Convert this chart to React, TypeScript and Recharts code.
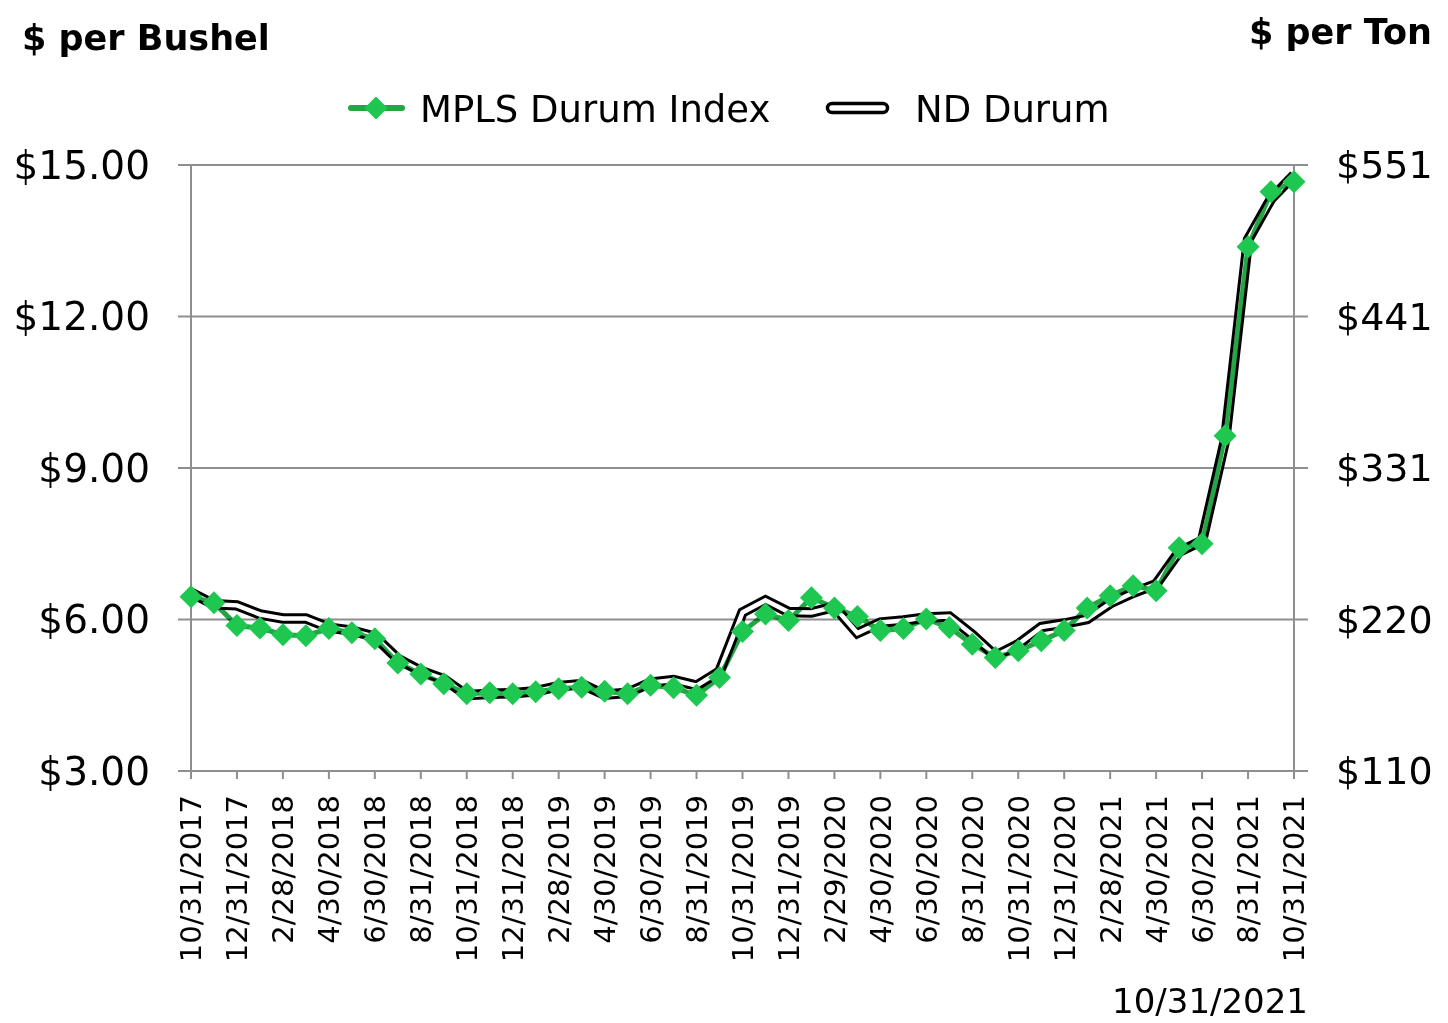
import React from 'react';
import { LineChart, Line, XAxis, YAxis, CartesianGrid } from 'recharts';

const dates = [
  '10/31/2017', '11/30/2017', '12/31/2017',
  '1/31/2018', '2/28/2018', '3/31/2018', '4/30/2018', '5/31/2018', '6/30/2018',
  '7/31/2018', '8/31/2018', '9/30/2018', '10/31/2018', '11/30/2018', '12/31/2018',
  '1/31/2019', '2/28/2019', '3/31/2019', '4/30/2019', '5/31/2019', '6/30/2019',
  '7/31/2019', '8/31/2019', '9/30/2019', '10/31/2019', '11/30/2019', '12/31/2019',
  '1/31/2020', '2/29/2020', '3/31/2020', '4/30/2020', '5/31/2020', '6/30/2020',
  '7/31/2020', '8/31/2020', '9/30/2020', '10/31/2020', '11/30/2020', '12/31/2020',
  '1/31/2021', '2/28/2021', '3/31/2021', '4/30/2021', '5/31/2021', '6/30/2021',
  '7/31/2021', '8/31/2021', '9/30/2021', '10/31/2021',
];

const mplsDurumIndex = [
  6.45, 6.33, 5.88, 5.83, 5.70, 5.68, 5.82, 5.74, 5.62, 5.14, 4.92, 4.73,
  4.53, 4.55, 4.53, 4.57, 4.63, 4.66, 4.58, 4.53, 4.70, 4.65, 4.50, 4.85,
  5.76, 6.11, 5.98, 6.43, 6.23, 6.06, 5.78, 5.82, 6.01, 5.84, 5.51, 5.25,
  5.38, 5.58, 5.78, 6.23, 6.47, 6.67, 6.57, 7.42, 7.50, 9.64, 13.38, 14.47, 14.67,
];

const ndDurum = [
  6.53, 6.30, 6.28, 6.10, 6.02, 6.02, 5.84, 5.78, 5.66, 5.22, 4.98, 4.82,
  4.50, 4.53, 4.54, 4.58, 4.68, 4.72, 4.51, 4.55, 4.75, 4.80, 4.69, 4.97,
  6.14, 6.38, 6.15, 6.14, 6.25, 5.73, 5.94, 5.98, 6.04, 6.06, 5.70, 5.28,
  5.51, 5.85, 5.92, 6.01, 6.32, 6.53, 6.70, 7.34, 7.56, 9.55, 13.52, 14.33, 14.80,
];

const yTicks = [3, 6, 9, 12, 15];
const leftTickLabels = ['$3.00', '$6.00', '$9.00', '$12.00', '$15.00'];
const rightTickLabels = ['$110', '$220', '$331', '$441', '$551'];

const seriesNames = ['MPLS Durum Index', 'ND Durum'];
const titleLeft = '$ per Bushel';
const titleRight = '$ per Ton';
const asOfDate = '10/31/2021';

const data = dates.map((d, i) => ({ date: d, mpls: mplsDurumIndex[i], nd: ndDurum[i] }));

const FONT = '"DejaVu Sans", sans-serif';
const GREEN_LINE = '#22a744';
const GREEN_MARK = '#1ec850';
const GRID = '#8e8e8e';

const Diamond = (props: any) => {
  const { cx, cy, index } = props;
  if (cx == null || cy == null) return null;
  const r = 11.5;
  return (
    <polygon
      key={`dia-${index}`}
      points={`${cx},${cy - r} ${cx + r},${cy} ${cx},${cy + r} ${cx - r},${cy}`}
      fill={GREEN_MARK}
      style={{ mixBlendMode: 'multiply' }}
    />
  );
};

const XTick = (props: any) => {
  const { x, y, payload } = props;
  return (
    <text
      x={x}
      y={y}
      transform={`rotate(-90 ${x} ${y})`}
      textAnchor="end"
      dy="0.36em"
      fontSize={29}
      fontFamily={FONT}
      fill="#000"
    >
      {payload.value}
    </text>
  );
};

export default function App() {
  return (
    <div style={{ position: 'absolute', left: 0, top: 0, width: 1448, height: 1023, background: '#fff' }}>
      <style>{`.mpls-line { mix-blend-mode: multiply; }`}</style>
      <LineChart
        width={1448}
        height={1023}
        data={data}
        margin={{ top: 165, right: 0, bottom: 0, left: 0 }}
        style={{ fontFamily: FONT }}
      >
        <CartesianGrid yAxisId="left" vertical={false} stroke={GRID} strokeWidth={2} />
        <XAxis
          dataKey="date"
          interval={1}
          height={252}
          tickSize={8}
          tickMargin={16}
          tick={<XTick />}
          axisLine={{ stroke: GRID, strokeWidth: 2 }}
          tickLine={{ stroke: GRID, strokeWidth: 2 }}
        />
        <YAxis
          yAxisId="left"
          orientation="left"
          width={191}
          domain={[3, 15]}
          ticks={yTicks}
          tickFormatter={(v: number) => leftTickLabels[yTicks.indexOf(v)]}
          tickSize={13}
          tickMargin={28}
          tick={{ fill: '#000', fontSize: 39, fontFamily: FONT }}
          axisLine={{ stroke: GRID, strokeWidth: 2 }}
          tickLine={{ stroke: GRID, strokeWidth: 2 }}
          allowDataOverflow
        />
        <YAxis
          yAxisId="right"
          orientation="right"
          width={154}
          domain={[3, 15]}
          ticks={yTicks}
          tickFormatter={(v: number) => rightTickLabels[yTicks.indexOf(v)]}
          tickSize={14}
          tickMargin={28}
          tick={{ fill: '#000', fontSize: 38, fontFamily: FONT, textAnchor: 'start' }}
          axisLine={{ stroke: GRID, strokeWidth: 2 }}
          tickLine={{ stroke: GRID, strokeWidth: 2 }}
          allowDataOverflow
        />
        <Line
          yAxisId="left"
          dataKey="nd"
          name={seriesNames[1]}
          stroke="#000"
          strokeWidth={10.5}
          dot={false}
          isAnimationActive={false}
          strokeLinejoin="miter"
        />
        <Line
          yAxisId="right"
          dataKey="nd"
          name={seriesNames[1] + ' core'}
          stroke="#fff"
          strokeWidth={4.5}
          dot={false}
          isAnimationActive={false}
          strokeLinejoin="miter"
          legendType="none"
        />
        <Line
          yAxisId="left"
          dataKey="mpls"
          name={seriesNames[0]}
          className="mpls-line"
          stroke={GREEN_LINE}
          strokeWidth={5}
          dot={Diamond}
          activeDot={false}
          isAnimationActive={false}
        />
      </LineChart>
      <svg
        width={1448}
        height={1023}
        style={{ position: 'absolute', left: 0, top: 0, pointerEvents: 'none', fontFamily: FONT }}
      >
        <text x={22} y={50} fontSize={35} fontWeight="bold" fill="#000">
          {titleLeft}
        </text>
        <text x={1432} y={44} fontSize={35} fontWeight="bold" fill="#000" textAnchor="end">
          {titleRight}
        </text>
        {/* legend */}
        <line x1={351} y1={108} x2={402} y2={108} stroke={GREEN_LINE} strokeWidth={6} strokeLinecap="round" />
        <polygon points="376,96.5 387.5,108 376,119.5 364.5,108" fill={GREEN_MARK} />
        <text x={420} y={122} fontSize={37} fill="#000">
          {seriesNames[0]}
        </text>
        <rect x={827.5} y={103.5} width={60} height={9} rx={4.5} ry={4.5} fill="#fff" stroke="#000" strokeWidth={3.5} />
        <text x={915} y={122} fontSize={37} fill="#000">
          {seriesNames[1]}
        </text>
        <text x={1308} y={1013} fontSize={34} fill="#000" textAnchor="end">
          {asOfDate}
        </text>
      </svg>
    </div>
  );
}
